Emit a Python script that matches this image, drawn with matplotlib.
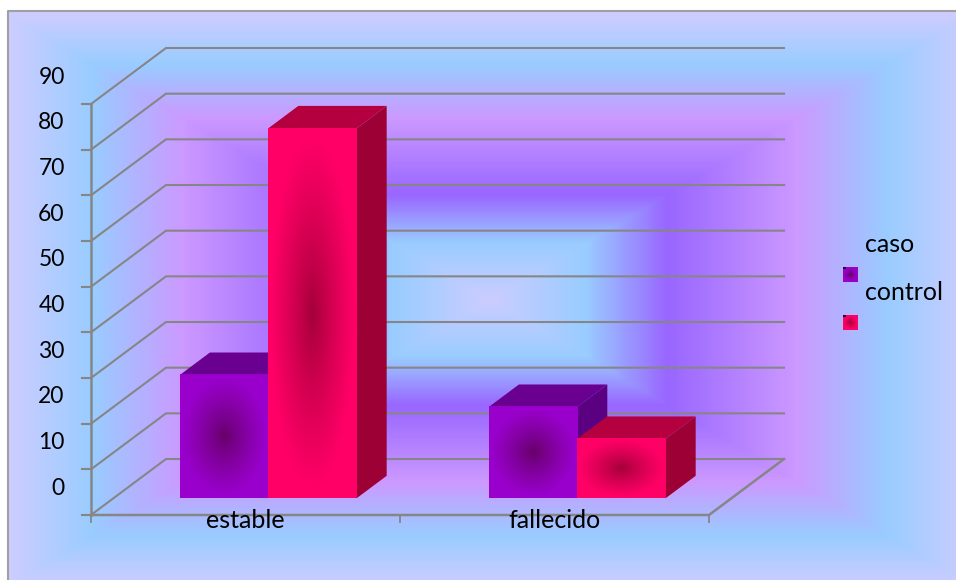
import numpy as np
import matplotlib
matplotlib.use('Agg')
import matplotlib.pyplot as plt
from matplotlib.colors import LinearSegmentedColormap
from matplotlib.patches import Polygon, Rectangle

# Data
categories = ['estable', 'fallecido']
series_names = ['caso', 'control']
caso = [27, 20]
control = [81, 13]
y_ticks = list(range(0, 100, 10))

W, H = 956, 580
plt.rcParams['font.family'] = ['Lato', 'DejaVu Sans']

# 3D look, in axis units (x: categories, y: value)
depth_x = 0.2427
depth_y = 12.26
bar_front = 0.30    # share of floor depth in front of the bars
bar_depth = 0.40    # share of floor depth taken by the bars
gap = 0.215
bar_w = 0.286

grid_c = '#868686'
purple = {'edge': '#9900CC', 'mid': '#660066', 'top': '#6A0090', 'side': '#5A0080'}
red = {'edge': '#FF0066', 'mid': '#A00038', 'top': '#B5003F', 'side': '#9C0035'}


def pos(x0, y0, x1, y1):
    return [x0 / W, 1 - y1 / H, (x1 - x0) / W, (y1 - y0) / H]


fig = plt.figure(figsize=(W / 100, H / 100), dpi=100)

# Background: rectangular gradient of the chart area, cut by the image edge
bg = fig.add_axes([0, 0, 1, 1], zorder=0)
bg.axis('off')
bg_cmap = LinearSegmentedColormap.from_list('bg', [
    (0.0, '#CCCCFF'), (0.2, '#99CCFF'), (0.37, '#9966FF'),
    (0.64, '#CC99FF'), (0.83, '#99CCFF'), (1.0, '#CCCCFF')])
xx, yy = np.meshgrid(np.linspace(8, 956, 474), np.linspace(10, 580, 285))
t = np.maximum(np.abs(xx - 490) / 480, np.abs(yy - 300) / 285)
bg.imshow(t, cmap=bg_cmap, vmin=0, vmax=1, extent=(8, 956, 580, 10), aspect='auto', interpolation='bilinear')
bg.plot([8.5, 8.5, 956], [580, 10.5, 10.5], color='#A0A0A0', lw=1.5)
bg.set_xlim(0, W)
bg.set_ylim(H, 0)

# Main axes = front plane of the chart
ax = fig.add_axes(pos(91, 104, 709, 515), zorder=1)
ax.set_xlim(0, 2)
ax.set_ylim(0, 90)
ax.axis('off')

for v in y_ticks:
    ax.plot([0, depth_x, 2 + depth_x], [v, v + depth_y, v + depth_y], color=grid_c, lw=1.5, clip_on=False)
    ax.plot([-0.029, 0], [v, v], color=grid_c, lw=1.5, clip_on=False)
    ax.text(-0.085, v + 5.9, str(v), ha='right', va='center', fontsize=16.5, color='black', clip_on=False)
ax.plot([0, 0], [0, 90], color=grid_c, lw=1.8, clip_on=False)
ax.plot([0, 2, 2 + depth_x], [0, 0, depth_y], color=grid_c, lw=1.8, clip_on=False)
for c in [0, 1, 2]:
    ax.plot([c, c], [0, -1.6], color=grid_c, lw=1.3, clip_on=False)


def radial(n):
    u, v = np.meshgrid(np.linspace(-1, 1, n), np.linspace(-1, 1, n))
    return np.minimum(np.sqrt(u ** 2 + v ** 2) / 0.95, 1) ** 0.8


def bar3d(ax, x, val, st, zorder):
    dx0 = bar_front * depth_x
    dy0 = bar_front * depth_y
    dx = bar_depth * depth_x
    dy = bar_depth * depth_y
    x0, x1 = x + dx0, x + dx0 + bar_w
    y0, y1 = dy0, dy0 + val
    ax.add_patch(Polygon([(x1, y0), (x1 + dx, y0 + dy), (x1 + dx, y1 + dy), (x1, y1)],
                         fc=st['side'], ec='none', zorder=zorder, clip_on=False))
    ax.add_patch(Polygon([(x0, y1), (x1, y1), (x1 + dx, y1 + dy), (x0 + dx, y1 + dy)],
                         fc=st['top'], ec='none', zorder=zorder, clip_on=False))
    cm = LinearSegmentedColormap.from_list('f', [st['mid'], st['edge']])
    ax.imshow(radial(120), cmap=cm, vmin=0, vmax=1, extent=(x0, x1, y0, y1), aspect='auto',
              origin='lower', zorder=zorder + 0.1, clip_on=False, interpolation='bilinear')


for i in range(len(categories)):
    bar3d(ax, i + gap, caso[i], purple, 3 + i)
    bar3d(ax, i + gap + bar_w, control[i], red, 3.5 + i)
    ax.text(i + 0.5, -1.2, categories[i], ha='center', va='center', fontsize=18, color='black', zorder=6, clip_on=False)
ax.set_xlim(0, 2)
ax.set_ylim(0, 90)

# Legend
leg_styles = [purple, red]
for i in range(len(series_names)):
    y = 267 + 48 * i
    cm = LinearSegmentedColormap.from_list('l', [leg_styles[i]['mid'], leg_styles[i]['edge']])
    bg.imshow(radial(30), cmap=cm, vmin=0, vmax=1, extent=(843, 858, y + 15, y), aspect='auto')
    bg.add_patch(Rectangle((843, y), 3, 1.5, fc='#300030', ec='none', zorder=5))
    bg.text(865, y - 22, series_names[i], ha='left', va='center', fontsize=18, color='black')
bg.set_xlim(0, W)
bg.set_ylim(H, 0)

fig.savefig('out.png', dpi=100)
